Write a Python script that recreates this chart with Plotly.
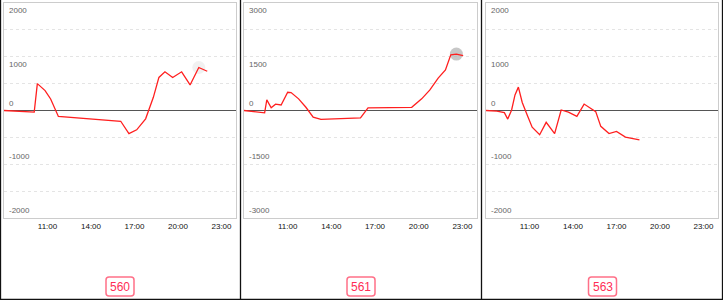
import plotly.graph_objects as go

W, H = 723, 300
DAY = "2020-01-01 "

labels = ["560", "561", "563"]
times1 = ["08:00","10:05","10:18","10:50","11:13","11:45","16:03","16:37","17:09","17:46","18:18","18:41","19:06","19:38","20:15","20:50","21:26","22:01"]
vals1 = [0,-30,500,370,215,-110,-200,-430,-360,-155,245,615,720,615,720,475,800,730]
times2 = ["08:00","08:57","09:25","09:34","09:52","10:10","10:33","11:00","11:14","11:45","12:15","12:45","13:17","16:00","16:31","19:31","20:12","20:46","21:20","21:50","22:12","22:35","23:03"]
vals2 = [0,-30,-65,295,75,175,155,510,500,325,90,-185,-250,-205,75,90,325,575,905,1130,1555,1575,1530]
times3 = ["08:00","08:45","09:16","09:30","09:46","10:00","10:14","10:30","10:50","11:11","11:42","12:09","12:44","13:11","13:41","14:16","14:46","15:07","15:34","15:55","16:29","17:00","17:37","18:35"]
vals3 = [0,-10,-40,-160,10,290,435,150,-80,-310,-450,-220,-430,10,-30,-110,120,60,-20,-295,-430,-390,-495,-545]
highlight_idx = [16, 21, None]
highlight_col = ["rgba(225,225,225,0.45)", "rgba(180,180,180,0.75)", None]
y_limits = [2000, 3000, 2000]
y_labels = [[2000, 1000, 0, -1000, -2000], [3000, 1500, 0, -1500, -3000], [2000, 1000, 0, -1000, -2000]]
x_ticks = ["11:00", "14:00", "17:00", "20:00", "23:00"]

series = [(times1, vals1), (times2, vals2), (times3, vals3)]
plot_px = [(4, 236), (244, 477), (486, 718)]
panel_px = [(0, 240), (241, 481), (482, 723)]
top_px, bot_px = 3, 218

fig = go.Figure()
annotations = []
shapes = []
font = "Liberation Sans, Arial, sans-serif"

for i, ((ts, vs), lim) in enumerate(zip(series, y_limits)):
    n = "" if i == 0 else str(i + 1)
    xs = [DAY + t for t in ts]
    hi = highlight_idx[i]
    if hi is not None:
        fig.add_trace(go.Scatter(x=[xs[hi]], y=[vs[hi]], mode="markers",
                                 marker=dict(size=13, color=highlight_col[i], line=dict(width=0)),
                                 xaxis="x" + n, yaxis="y" + n, showlegend=False, hoverinfo="skip"))
    fig.add_trace(go.Scatter(x=xs, y=vs, mode="lines", line=dict(color="#ff1f1f", width=1.3),
                             xaxis="x" + n, yaxis="y" + n, showlegend=False))
    x0, x1 = plot_px[i]
    xd = [x0 / W, x1 / W]
    yd = [1 - bot_px / H, 1 - top_px / H]
    fig.layout["xaxis" + n] = dict(
        domain=xd, anchor="y" + n, type="date",
        range=[DAY + "08:00", "2020-01-02 00:00"],
        tickvals=[DAY + t for t in x_ticks], ticktext=x_ticks,
        tickfont=dict(size=8, color="#111", family=font),
        showgrid=False, showline=True, linecolor="#cccccc", linewidth=1, mirror=True,
        ticks="", zeroline=False, fixedrange=True)
    fig.layout["yaxis" + n] = dict(
        domain=yd, anchor="x" + n, range=[-lim, lim],
        dtick=lim / 4, tick0=0, showticklabels=False,
        showgrid=True, gridcolor="#e4e4e4", griddash="dot", gridwidth=1,
        zeroline=True, zerolinecolor="#555555", zerolinewidth=1,
        showline=True, linecolor="#cccccc", linewidth=1, mirror=True, ticks="")
    for v in y_labels[i]:
        annotations.append(dict(
            xref=f"x{n} domain", yref="y" + n, x=0.012, y=v, text=str(v),
            showarrow=False, xanchor="left",
            yanchor="top" if v > 0 else "bottom",
            yshift=-1 if v > 0 else 1,
            font=dict(size=8, color="#666", family=font)))
    pl, pr = panel_px[i]
    cx = (pl + pr) / 2
    bw, bh, r = 28, 19, 3
    bx0, bx1 = cx - bw / 2, cx + bw / 2
    by0, by1 = 277, 277 + bh
    def px(x): return x / W
    def py(y): return 1 - y / H
    path = (f"M {px(bx0 + r)} {py(by0)} L {px(bx1 - r)} {py(by0)} "
            f"Q {px(bx1)} {py(by0)} {px(bx1)} {py(by0 + r)} L {px(bx1)} {py(by1 - r)} "
            f"Q {px(bx1)} {py(by1)} {px(bx1 - r)} {py(by1)} L {px(bx0 + r)} {py(by1)} "
            f"Q {px(bx0)} {py(by1)} {px(bx0)} {py(by1 - r)} L {px(bx0)} {py(by0 + r)} "
            f"Q {px(bx0)} {py(by0)} {px(bx0 + r)} {py(by0)} Z")
    shapes.append(dict(type="path", xref="paper", yref="paper", path=path,
                       line=dict(color="#ff7088", width=1.5), fillcolor="white"))
    annotations.append(dict(xref="paper", yref="paper", x=cx / W, y=1 - (by0 + bh / 2) / H,
                            text=labels[i], showarrow=False, xanchor="center", yanchor="middle",
                            font=dict(size=12, color="#ff2d55", family=font)))

for xp in [0.5, 240.5, 481.5, 722.5]:
    shapes.append(dict(type="line", xref="paper", yref="paper", x0=xp / W, x1=xp / W, y0=0, y1=1,
                       line=dict(color="#111", width=1.3)))
shapes.append(dict(type="line", xref="paper", yref="paper", x0=0, x1=1, y0=0.5 / H, y1=0.5 / H,
                   line=dict(color="#111", width=1.3)))

fig.update_layout(width=W, height=H, margin=dict(l=0, r=0, t=0, b=0),
                  paper_bgcolor="white", plot_bgcolor="white",
                  annotations=annotations, shapes=shapes, showlegend=False)
fig.write_html("out.html")
